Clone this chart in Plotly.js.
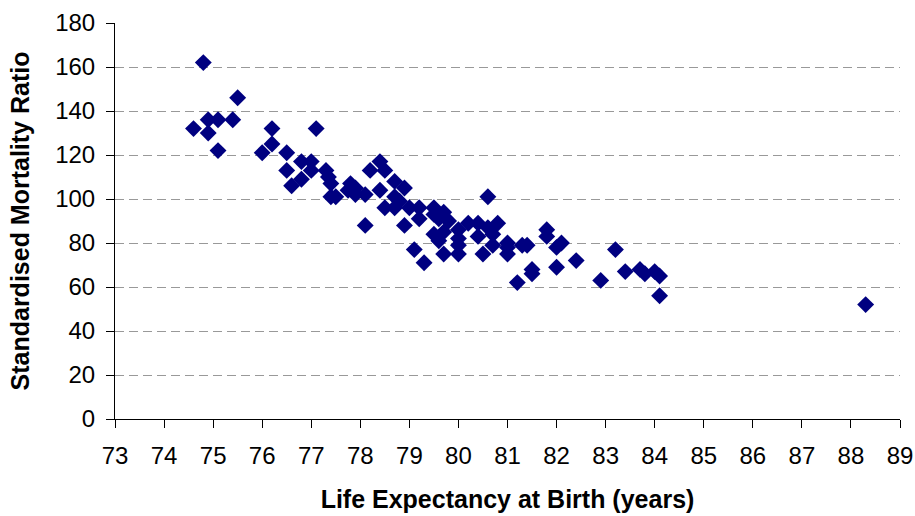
<!DOCTYPE html>
<html>
<head>
<meta charset="utf-8">
<script src="https://cdn.plot.ly/plotly-3.0.1.min.js"></script>
<style>html,body{margin:0;padding:0;background:#fff;}#chart{width:915px;height:516px;}</style>
</head>
<body>
<div id="chart"></div>
<script>
// Life expectancy at birth (years)
const lifeExpectancy = [
  74.6, 74.8, 74.9, 74.9, 75.1, 75.1, 75.4, 75.5, 76.0, 76.2,
  76.2, 76.5, 76.5, 76.6, 76.8, 76.8, 77.0, 77.0, 77.1, 77.3,
  77.35, 77.4, 77.4, 77.5, 77.8, 77.75, 77.9, 77.9, 78.1, 78.1,
  78.2, 78.4, 78.5, 78.4, 78.7, 78.9, 78.7, 78.8, 78.5, 78.7,
  79.0, 79.2, 79.2, 78.9, 79.1, 79.3, 79.5, 79.5, 79.7, 79.6,
  79.8, 79.5, 79.7, 79.6, 79.7, 80.0, 80.0, 80.0, 80.0, 80.2,
  80.4, 80.4, 80.6, 80.6, 80.8, 80.7, 80.7, 80.5, 81.0, 81.0,
  81.0, 81.3, 81.4, 81.2, 81.5, 81.5, 81.8, 81.8, 82.1, 82.0,
  82.0, 82.4, 82.9, 83.2, 83.4, 83.7, 83.8, 84.0, 84.1, 84.1,
  88.3
];
// Standardised mortality ratio
const mortalityRatio = [
  132, 162, 136, 130, 136, 122, 136, 146, 121, 125,
  132, 121, 113, 106, 117, 109, 117, 113, 132, 113,
  110, 107, 101, 101, 107, 104, 105, 102, 102, 88,
  113, 117, 113, 104, 108, 105, 101, 99, 96, 96,
  96, 96, 91, 88, 77, 71, 96, 93, 94, 91,
  90, 84, 85, 81, 75, 86, 82, 79, 75, 89,
  89, 83, 101, 87, 89, 84, 79, 75, 80, 75,
  78, 79, 79, 62, 68, 66, 86, 83, 80, 78,
  69, 72, 63, 77, 67, 68, 66, 67, 65, 56,
  52
];
const xTicks = [73,74,75,76,77,78,79,80,81,82,83,84,85,86,87,88,89];
const yTicks = [0,20,40,60,80,100,120,140,160,180];

const fam = '"Liberation Sans", Arial, sans-serif';

Plotly.newPlot('chart', [{
  type: 'scatter',
  mode: 'markers',
  x: lifeExpectancy,
  y: mortalityRatio,
  marker: {symbol: 'diamond', size: 13, color: '#000080', line: {width: 0}},
  hoverinfo: 'x+y'
}], {
  width: 915, height: 516,
  margin: {l: 115, r: 15, t: 23, b: 97},
  paper_bgcolor: '#fff', plot_bgcolor: '#fff',
  showlegend: false,
  font: {family: fam, size: 24, color: '#000'},
  xaxis: {
    range: [73, 89],
    tickvals: xTicks,
    ticktext: xTicks.map(String),
    showgrid: false, zeroline: false,
    showline: true, linecolor: '#000', linewidth: 1,
    ticks: 'outside', ticklen: 8, tickcolor: '#000',
    ticklabelstandoff: 7,
    tickfont: {family: fam, size: 24, color: '#000'},
    title: {text: 'Life Expectancy at Birth (years)', font: {family: fam, size: 25, color: '#000', weight: 'bold'}, standoff: 22}
  },
  yaxis: {
    range: [0, 180],
    tickvals: yTicks,
    ticktext: yTicks.map(String),
    showgrid: true, gridcolor: '#999', griddash: '9px,5px', gridwidth: 1,
    zeroline: false,
    showline: true, linecolor: '#000', linewidth: 1,
    ticks: 'outside', ticklen: 8, tickcolor: '#000',
    ticklabelstandoff: 6,
    tickfont: {family: fam, size: 24, color: '#000'},
    title: {text: 'Standardised Mortality Ratio', font: {family: fam, size: 25, color: '#000', weight: 'bold'}, standoff: 18}
  }
}, {staticPlot: true});
</script>
</body>
</html>
